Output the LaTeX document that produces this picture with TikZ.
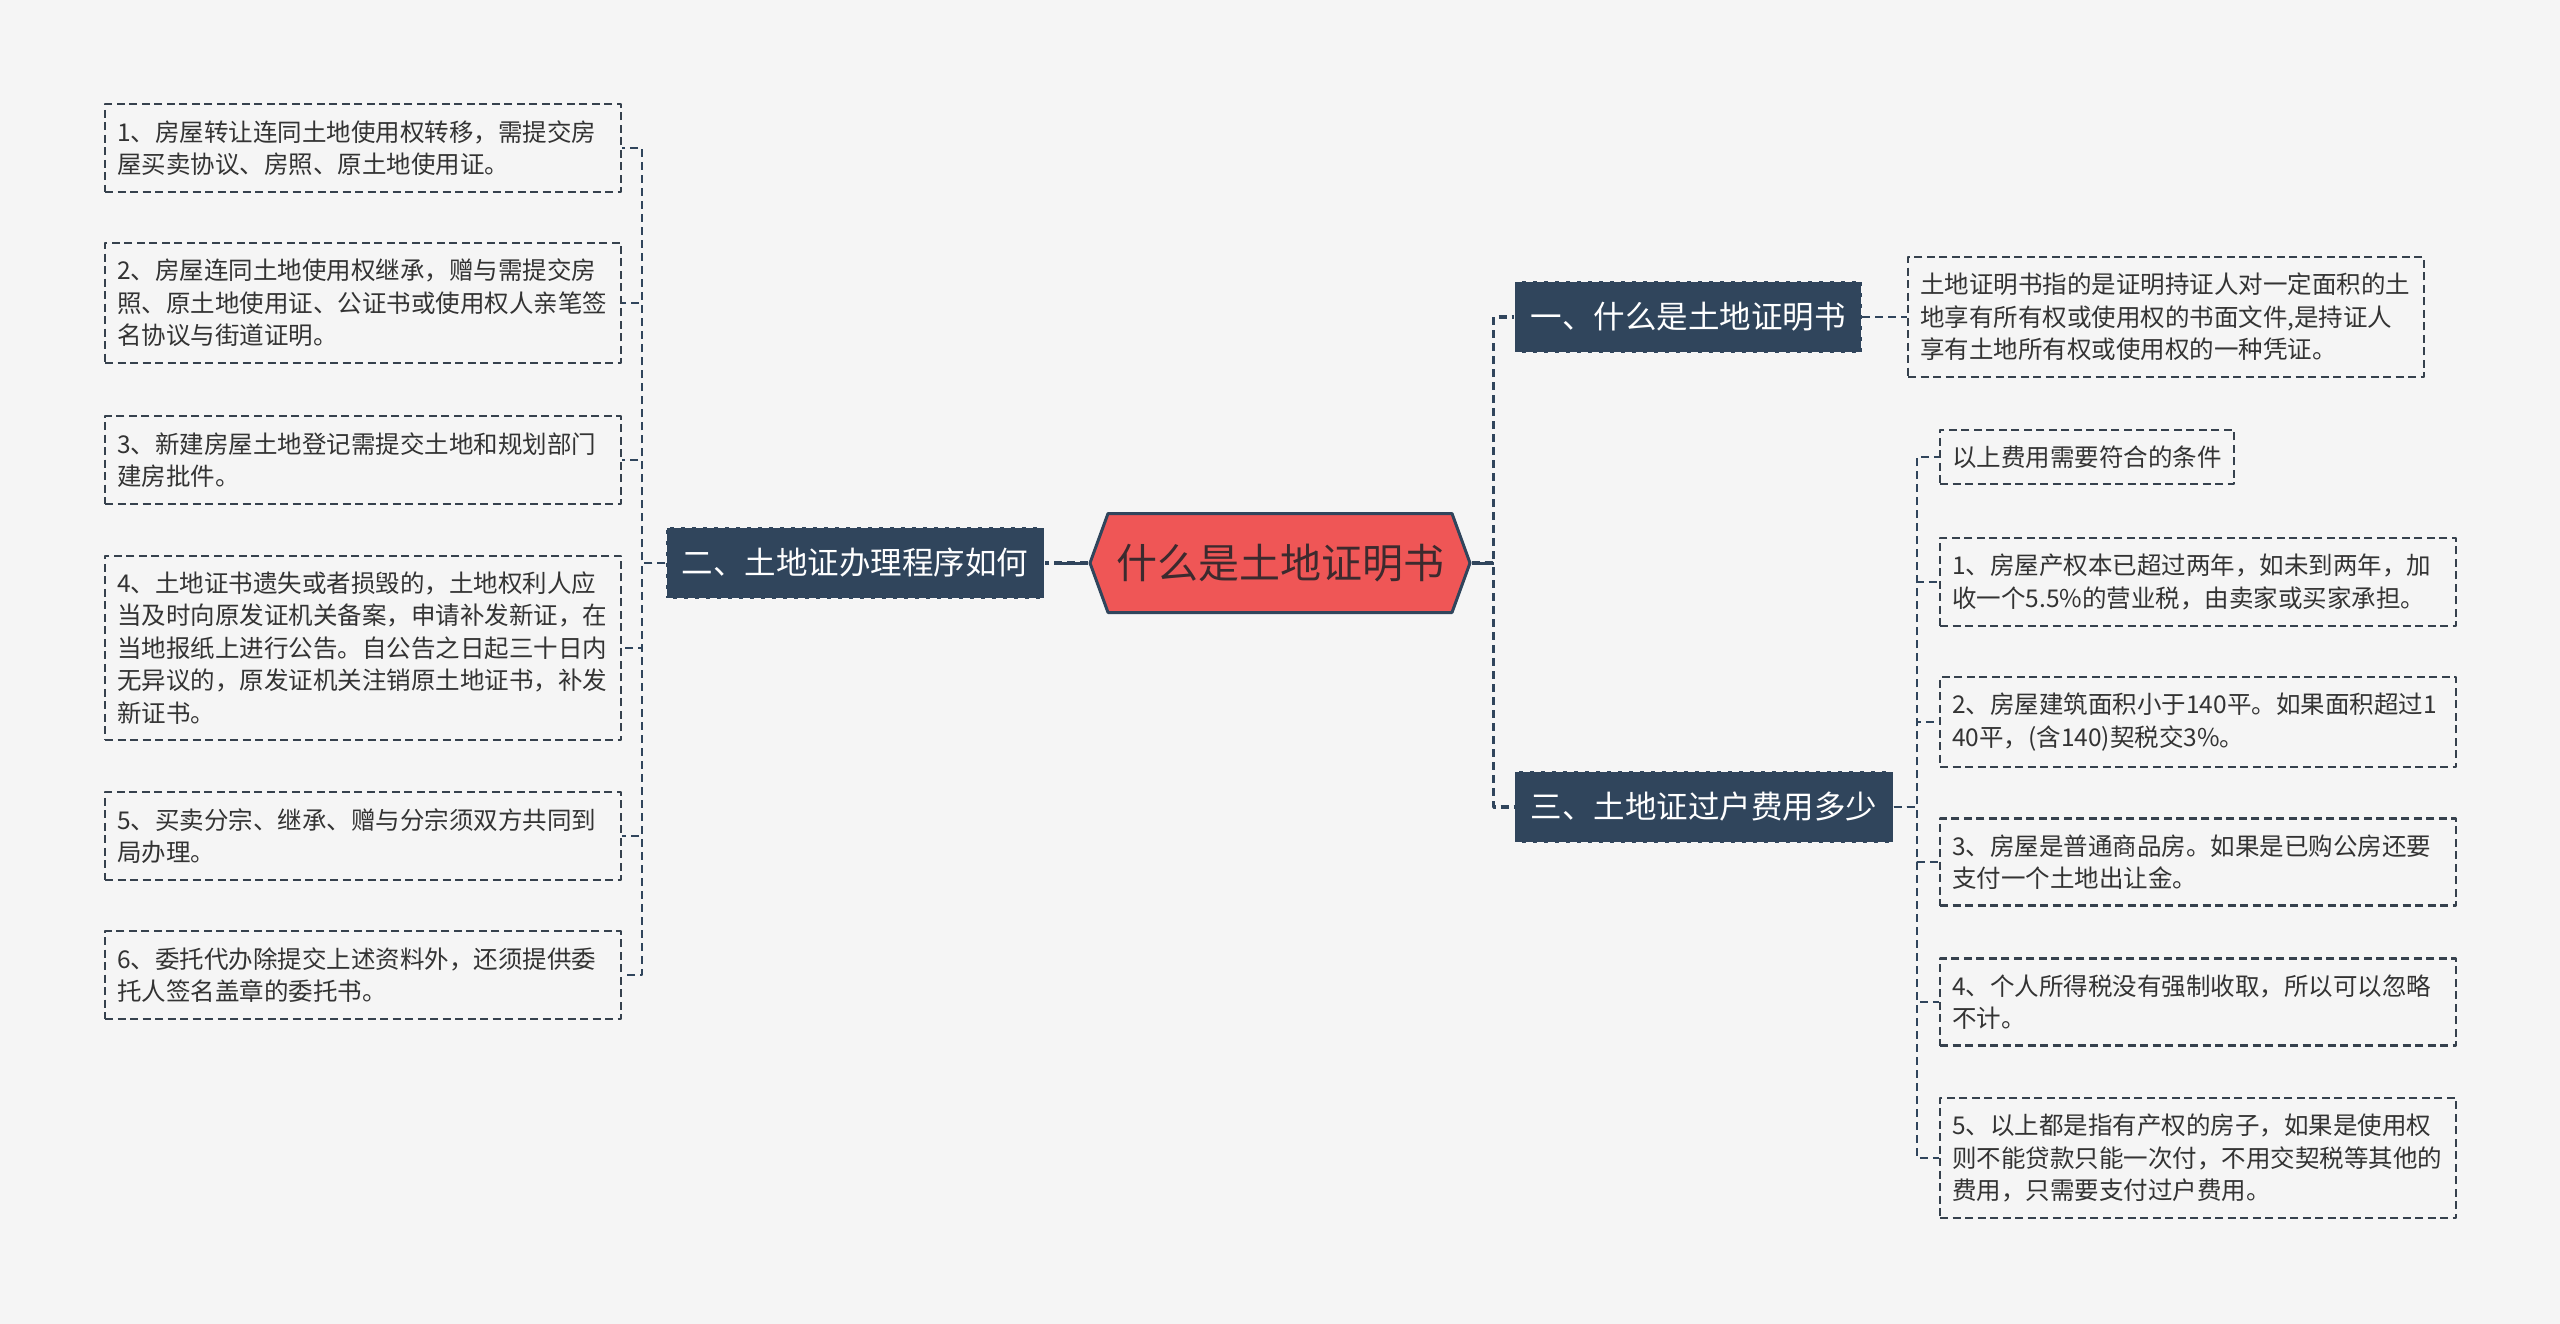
\documentclass[tikz,border=0pt]{standalone}
\usepackage{fontspec}
\setmainfont{Noto Sans CJK SC}
\usetikzlibrary{shapes.symbols}

\definecolor{pagebg}{HTML}{F5F5F5}
\definecolor{navy}{HTML}{30455C}
\definecolor{rootred}{HTML}{EF5656}
\definecolor{roottext}{HTML}{3C2A2E}
\definecolor{leafline}{HTML}{36414D}
\definecolor{leaftext}{HTML}{333333}

\begin{document}
\begin{tikzpicture}[x=1pt, y=-1pt, line join=round,
  root/.style={signal, signal to=west and east, signal pointer angle=140,
    fill=rootred, draw=navy, line width=3pt, minimum width=380pt,
    minimum height=99pt, inner sep=0pt, text=roottext,
    font=\fontsize{41}{48}\selectfont},
  branch/.style={fill=navy, draw=pagebg, dash pattern=on 7pt off 4pt,
    line width=1.4pt, minimum height=72pt, inner xsep=16pt, text=white,
    font=\fontsize{31.5}{38}\selectfont},
  leaf/.style={draw=leafline, line width=2.2pt, dash pattern=on 8pt off 4.5pt,
    inner xsep=12pt, inner ysep=16pt, text=leaftext, align=left,
    text width=492pt, font=\fontsize{24.5}{32.5}\selectfont},
  leafshort/.style={leaf, text width={}},
  link/.style={draw=navy, line width=2.4pt, dash pattern=on 8pt off 5pt},
  rootlink/.style={link, line width=3.2pt},
  trunk/.style={draw=navy, line width=3pt}]

  % ── Canvas ───────────────────────────────────────────────────────────────────
  \path[use as bounding box, fill=pagebg] (0,0) rectangle (2560,1324);

  % ── Root and branches ────────────────────────────────────────────────────────
  \node[root] (root) at (1280,563) {什么是土地证明书};

  \node[branch, anchor=west] (b1) at (1514,317) {一、什么是土地证明书};
  \node[branch, anchor=east] (b2) at (1045,563) {二、土地证办理程序如何};
  \node[branch, anchor=west] (b3) at (1514,807) {三、土地证过户费用多少};

  % ── Left leaves ──────────────────────────────────────────────────────────────
  \node[leaf, anchor=west] (a1) at (104,148)
    {1、房屋转让连同土地使用权转移，需提交房\\屋买卖协议、房照、原土地使用证。};
  \node[leaf, anchor=west] (a2) at (104,303)
    {2、房屋连同土地使用权继承，赠与需提交房\\照、原土地使用证、公证书或使用权人亲笔签\\名协议与街道证明。};
  \node[leaf, anchor=west] (a3) at (104,460)
    {3、新建房屋土地登记需提交土地和规划部门\\建房批件。};
  \node[leaf, anchor=west] (a4) at (104,648)
    {4、土地证书遗失或者损毁的，土地权利人应\\当及时向原发证机关备案，申请补发新证，在\\当地报纸上进行公告。自公告之日起三十日内\\无异议的，原发证机关注销原土地证书，补发\\新证书。};
  \node[leaf, anchor=west] (a5) at (104,836)
    {5、买卖分宗、继承、赠与分宗须双方共同到\\局办理。};
  \node[leaf, anchor=west] (a6) at (104,975)
    {6、委托代办除提交上述资料外，还须提供委\\托人签名盖章的委托书。};

  % ── Right leaves ─────────────────────────────────────────────────────────────
  \node[leaf, anchor=west] (c0) at (1907,317)
    {土地证明书指的是证明持证人对一定面积的土\\地享有所有权或使用权的书面文件,是持证人\\享有土地所有权或使用权的一种凭证。};

  \node[leafshort, anchor=west] (d0) at (1939,457) {以上费用需要符合的条件};
  \node[leaf, anchor=west] (d1) at (1939,582)
    {1、房屋产权本已超过两年，如未到两年，加\\收一个5.5\%的营业税，由卖家或买家承担。};
  \node[leaf, anchor=west] (d2) at (1939,722)
    {2、房屋建筑面积小于140平。如果面积超过1\\40平，(含140)契税交3\%。};
  \node[leaf, anchor=west] (d3) at (1939,862)
    {3、房屋是普通商品房。如果是已购公房还要\\支付一个土地出让金。};
  \node[leaf, anchor=west] (d4) at (1939,1002)
    {4、个人所得税没有强制收取，所以可以忽略\\不计。};
  \node[leaf, anchor=west] (d5) at (1939,1158)
    {5、以上都是指有产权的房子，如果是使用权\\则不能贷款只能一次付，不用交契税等其他的\\费用，只需要支付过户费用。};

  % ── Connectors ───────────────────────────────────────────────────────────────
  \draw[rootlink] (root.west) -- (b2.east);
  \draw[trunk] (root.west) -- ++(-32,0);
  \foreach \br in {b1,b3}
    \draw[rootlink] (root.east) -- ++(22,0) |- (\br.west);
  \draw[trunk] (root.east) -- ++(22,0);

  \foreach \lf in {a1,a2,a3,a4,a5,a6}
    \draw[link] (b2.west) -- ++(-23,0) |- (\lf.east);
  \draw[link] (b1.east) -- (c0.west);
  \foreach \lf in {d0,d1,d2,d3,d4,d5}
    \draw[link] (b3.east) -- ++(23,0) |- (\lf.west);

\end{tikzpicture}
\end{document}
